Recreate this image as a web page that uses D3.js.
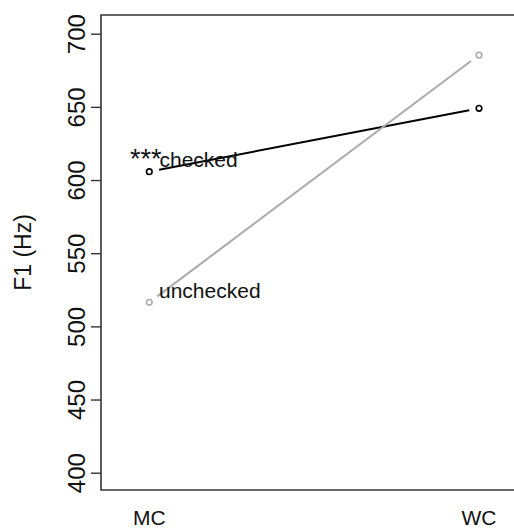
<!DOCTYPE html>
<html>
<head>
<meta charset="utf-8">
<script src="https://cdn.jsdelivr.net/npm/d3@7"></script>
<style>
  html, body { margin: 0; padding: 0; background: #fff; }
  svg { display: block; font-family: "Liberation Sans", Arial, Helvetica, sans-serif; }
</style>
</head>
<body>
<div id="chart"></div>
<script>
// ---- data ----
const categories = ["MC", "WC"];
const checkedValues = [605.7, 649.0];
const uncheckedValues = [516.4, 685.4];
const yTicks = [400, 450, 500, 550, 600, 650, 700];
const seriesNames = ["checked", "unchecked"];
const seriesColors = ["#000000", "#aaaaaa"];
const significance = "***";
const yTitle = "F1 (Hz)";

const W = 514, H = 528;
const svg = d3.select("#chart").append("svg").attr("width", W).attr("height", H);

const x = d3.scaleLinear().domain([0, 1]).range([149.3, 479]);
const y = d3.scaleLinear().domain([400, 700]).range([472.7, 33.7]);

// box (right side cut off by the frame)
const box = { left: 101, top: 15, bottom: 490 };
svg.append("path")
  .attr("d", `M${W + 10},${box.top}H${box.left}V${box.bottom}H${W + 10}`)
  .attr("fill", "none").attr("stroke", "#333").attr("stroke-width", 1.6);

// y axis
const yAxis = d3.axisLeft(y).tickValues(yTicks).tickSize(10).tickSizeOuter(0);
const gy = svg.append("g").attr("transform", `translate(${box.left},0)`).call(yAxis);
gy.select(".domain").remove();
gy.selectAll(".tick line").attr("stroke", "#333").attr("stroke-width", 1.4);
gy.selectAll(".tick text")
  .attr("x", 0).attr("y", 0).attr("dy", null)
  .attr("transform", "translate(-16,0) rotate(-90)")
  .attr("text-anchor", "middle")
  .attr("font-size", 24)
  .attr("fill", "#111")
  .attr("font-family", "'Liberation Sans', Arial, sans-serif");

// y title
svg.append("text")
  .attr("transform", `translate(31,${(box.top + box.bottom) / 2}) rotate(-90)`)
  .attr("text-anchor", "middle")
  .attr("font-size", 23)
  .attr("fill", "#111")
  .text(yTitle);

// x labels
svg.selectAll(".xlab").data(categories).enter().append("text")
  .attr("class", "xlab")
  .attr("x", (d, i) => x(i))
  .attr("y", 525)
  .attr("text-anchor", "middle")
  .attr("font-size", 21)
  .attr("fill", "#111")
  .text(d => d);

// series
const series = [checkedValues, uncheckedValues];
const gap = 10;
series.forEach((vals, s) => {
  const pts = vals.map((v, i) => [x(i), y(v)]);
  for (let i = 0; i < pts.length - 1; i++) {
    const [x0, y0] = pts[i], [x1, y1] = pts[i + 1];
    const dx = x1 - x0, dy = y1 - y0, L = Math.hypot(dx, dy);
    const ux = dx / L, uy = dy / L;
    svg.append("line")
      .attr("x1", x0 + ux * gap).attr("y1", y0 + uy * gap)
      .attr("x2", x1 - ux * gap).attr("y2", y1 - uy * gap)
      .attr("stroke", seriesColors[s]).attr("stroke-width", 2);
  }
  svg.selectAll(".pt" + s).data(vals).enter().append("circle")
    .attr("cx", (d, i) => x(i)).attr("cy", d => y(d))
    .attr("r", 2.8)
    .attr("fill", "none")
    .attr("stroke", seriesColors[s]).attr("stroke-width", 1.6);
});

// labels
svg.append("text").attr("x", 159.5).attr("y", y(checkedValues[0]) - 4.5)
  .attr("font-size", 21).attr("fill", "#111").text(seriesNames[0]);
svg.append("text").attr("x", 159).attr("y", y(uncheckedValues[0]) - 4)
  .attr("font-size", 21).attr("fill", "#111").text(seriesNames[1]);
svg.append("text").attr("x", 130).attr("y", y(checkedValues[0]) - 4)
  .attr("font-size", 27).attr("fill", "#111").text(significance);
</script>
</body>
</html>
